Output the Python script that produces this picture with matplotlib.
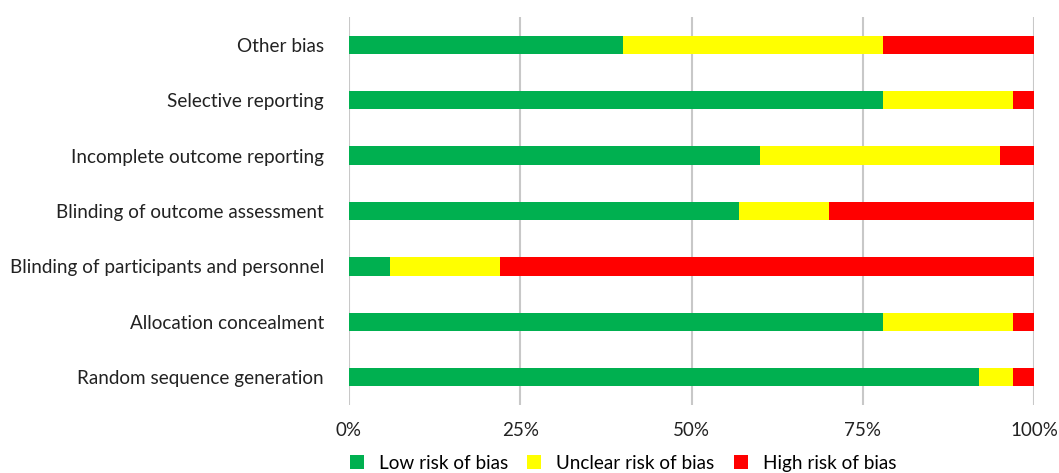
import matplotlib
matplotlib.use("Agg")
import matplotlib.pyplot as plt
from matplotlib.patches import Patch

categories = ["Random sequence generation", "Allocation concealment",
              "Blinding of participants and personnel", "Blinding of outcome assessment",
              "Incomplete outcome reporting", "Selective reporting", "Other bias"]
low = [92, 78, 6, 57, 60, 78, 40]
unclear = [5, 19, 16, 13, 35, 19, 38]
high = [3, 3, 78, 30, 5, 3, 22]
series_names = ["Low risk of bias", "Unclear risk of bias", "High risk of bias"]
colors = ["#00b050", "#ffff00", "#ff0000"]
xticks = [0, 25, 50, 75, 100]
xticklabels = ["0%", "25%", "50%", "75%", "100%"]

plt.rcParams['font.family'] = ['Lato', 'DejaVu Sans']
fig = plt.figure(figsize=(10.59, 4.73), dpi=100)
ax = fig.add_axes([349/1059, 1-405/473, (1034-349)/1059, (405-17)/473])

y = list(range(len(categories)))
h = 0.33
ax.barh(y, low, height=h, color=colors[0], label=series_names[0])
left2 = low
ax.barh(y, unclear, left=left2, height=h, color=colors[1], label=series_names[1])
left3 = [a + b for a, b in zip(low, unclear)]
ax.barh(y, high, left=left3, height=h, color=colors[2], label=series_names[2])

ax.set_xlim(0, 100)
ax.set_ylim(-0.5, len(categories) - 0.5)
ax.set_xticks(xticks)
ax.set_xticklabels(xticklabels, fontsize=13.5, color="#222222")
ax.set_yticks(y)
ax.set_yticklabels(categories, fontsize=13.6, color="#222222")
ax.tick_params(axis='both', length=0)
ax.tick_params(axis='y', pad=18)
ax.tick_params(axis='x', pad=12)
for s in ax.spines.values():
    s.set_visible(False)
ax.grid(axis='x', color="#c8c8c8", linewidth=1.5)
ax.set_axisbelow(True)

handles = [Patch(facecolor=c, label=n) for c, n in zip(colors, series_names)]
fig.legend(handles=handles, loc='center', bbox_to_anchor=(623/1059, 1-463/473),
           ncol=3, frameon=False, fontsize=13.6, handlelength=0.75, handleheight=0.75,
           handletextpad=0.8, columnspacing=1.0)

fig.savefig("out.png", dpi=100)
